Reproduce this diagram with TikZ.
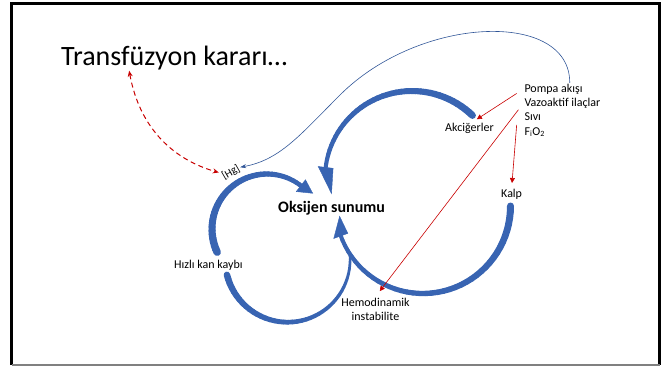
\documentclass[tikz,border=0pt]{standalone}
\usepackage{fontspec}
\setmainfont{Carlito}
\usetikzlibrary{arrows.meta,calc}
\definecolor{arcblue}{RGB}{56,100,178}
\definecolor{linkred}{RGB}{200,0,0}
\definecolor{thinblue}{RGB}{47,85,151}
% tapered arc: (cx,cy)(start:end:radius)(tail width:head width)
\def\taperarc(#1,#2)(#3:#4:#5)(#6:#7){\foreach \k in {0,...,39}{\pgfmathsetmacro{\angA}{#3+(#4-#3)*\k/40}\pgfmathsetmacro{\angB}{#3+(#4-#3)*(\k+1)/40}\pgfmathsetmacro{\segw}{#6+(#7-#6)*\k/39}\draw[arcbody, line width=\segw pt] ({#1+#5*cos(\angA)},{#2+#5*sin(\angA)}) -- ({#1+#5*cos(\angB)},{#2+#5*sin(\angB)});}}
% head of a tapered arc: (cx,cy)(base angle:tip angle)(radius:tip radius)
\def\arcarrowhead(#1,#2)(#3:#4)(#5:#6){\fill[arcbody] ({#1+(#5-7.5)*cos(#3)},{#2+(#5-7.5)*sin(#3)}) -- ({#1+(#5+7.5)*cos(#3)},{#2+(#5+7.5)*sin(#3)}) -- ({#1+#6*cos(#4)},{#2+#6*sin(#4)}) -- cycle;}

\begin{document}
\begin{tikzpicture}[x=1pt,y=-1pt,
	arcbody/.style={draw=arcblue, fill=arcblue, line cap=round},
	lbl/.style={inner sep=1pt, font=\fontsize{12pt}{14.5pt}\selectfont, anchor=base west},
	slideframe/.style={line width=3pt},
	redlink/.style={draw=linkred, line width=0.6pt, -{Triangle[length=5pt,width=5pt]}},
	reddash/.style={draw=linkred, line width=1pt, dash pattern=on 5pt off 3.5pt, {Stealth[length=6pt,width=5pt]}-{Stealth[length=6pt,width=5pt]}},
	feedback/.style={draw=thinblue, line width=0.6pt, -{Stealth[length=6pt,width=4pt]}}]
			%%%%% START %%%%%
			\useasboundingbox (0,0) rectangle (665,367);
			\draw[slideframe] (11.5,365) -- (11.5,3.5) -- (659.5,3.5) -- (659.5,365);
			\draw[gray, line width=1.2pt] (11.5,365) -- (659.5,365);
			
			\node[inner sep=1pt, font=\fontsize{28pt}{34pt}\selectfont, anchor=base west] (title) at (60,65) {Transfüzyon kararı…};
			\node[inner sep=1pt, font=\bfseries\fontsize{16pt}{19pt}\selectfont, anchor=base west] (oksijen) at (277,212) {Oksijen sunumu};
			
			\node[inner sep=1pt, font=\fontsize{11pt}{13pt}\selectfont, rotate=30] (hg) at (231,172.5) {[Hg]};
			\node[lbl] (kayip) at (173,268) {Hızlı kan kaybı};
			\node[lbl, anchor=base, align=center] (hemo) at (375.5,320.7) {Hemodinamik\\instabilite};
			\node[lbl] (kalp) at (500,197.5) {Kalp};
			\node[lbl] (akc) at (444,131) {Akciğerler};
			
			\node[lbl] (pompa) at (523.3,92.3) {Pompa akışı};
			\node[lbl] (vazo) at (523.3,106.5) {Vazoaktif ilaçlar};
			\node[lbl] (sivi) at (523.3,120.8) {Sıvı};
			\node[lbl] (fio) at (523.3,135) {F\textsubscript{i}O\textsubscript{2}};
			
			% big curved arrows
			\taperarc(267,229)(155:310:55)(7.5:4.5)
			\arcarrowhead(267,229)(308:322)(55:58)
			\taperarc(287.6,259.7)(166:-4:62.5)(6.5:2.5)
			\taperarc(412,178)(314:186:87)(7:4)
			\arcarrowhead(412,178)(187:169)(87:82)
			\taperarc(423,206)(0:161:87.5)(7:4)
			\arcarrowhead(423,206)(160:173)(87.5:84)
			
			% red links
			\draw[redlink, shorten <=8pt, shorten >=4pt] (pompa.west) -- ([xshift=4pt]akc.north);
			\draw[redlink, shorten <=8pt, shorten >=7pt] (vazo.west) -- (hemo.north);
			\draw[redlink, shorten <=8pt, shorten >=5pt] ([xshift=-6pt]sivi.west) -- (kalp.north);
			
			\draw[reddash] ([xshift=-45pt]title.south) .. controls (140,130) and (175,160) .. (hg.north west);
			\draw[feedback] ([xshift=-14pt]pompa.north east) .. controls (570,10) and (420,15) .. (340,95) .. controls (300,135) and (280,160) .. (hg.east);
			%%%%% END %%%%%
\end{tikzpicture}
\end{document}
